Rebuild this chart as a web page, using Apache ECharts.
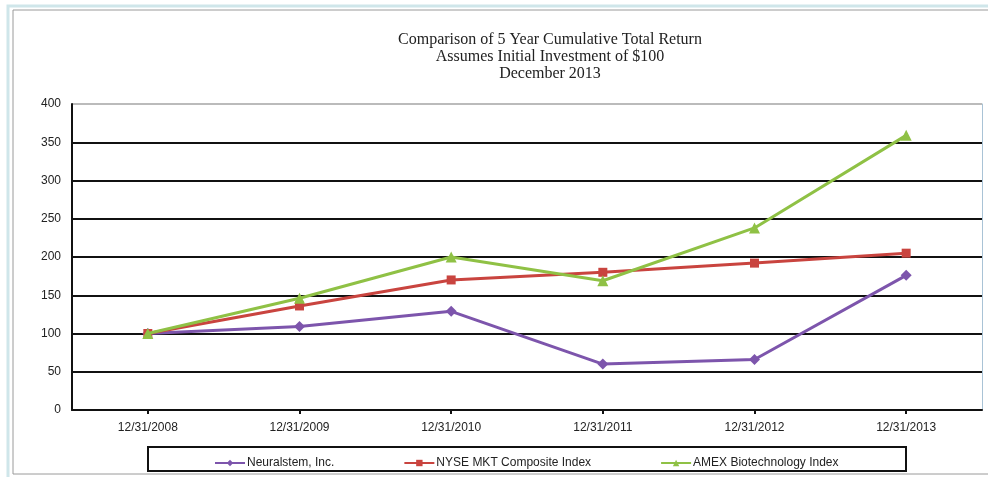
<!DOCTYPE html>
<html>
<head>
<meta charset="utf-8">
<title>Comparison of 5 Year Cumulative Total Return</title>
<script src="https://cdn.jsdelivr.net/npm/echarts@6/dist/echarts.min.js"></script>
<style>
    html, body { margin: 0; padding: 0; background: #fff; }
    #chart { width: 988px; height: 477px; }
</style>
</head>
<body>
<div id="chart"></div>
<script>
// x axis dates
var categories = ['12/31/2008', '12/31/2009', '12/31/2010', '12/31/2011', '12/31/2012', '12/31/2013'];
// y ticks 0..400 step 50
var yTicks = [0, 50, 100, 150, 200, 250, 300, 350, 400];

var seriesNames = ['Neuralstem, Inc.', 'NYSE MKT Composite Index', 'AMEX Biotechnology Index'];
var neuralstem = [100, 109, 129, 60, 66, 176];
var nyseMkt = [100, 136, 170, 180, 192, 205];
var amexBio = [100, 146, 200, 169, 238, 359];

var colorList = ['#7d55ac', '#c9443f', '#8fc145'];
var symbols = ['diamond', 'rect', 'triangle'];

var myChart = echarts.init(document.getElementById('chart'));

function makeSeries(idx, data) {
    return {
        name: seriesNames[idx],
        type: 'line',
        data: data,
        symbol: symbols[idx],
        symbolSize: idx == 1 ? 9 : 11,
        showSymbol: true,
        lineStyle: { width: 3, color: colorList[idx] },
        itemStyle: { color: colorList[idx] },
        z: 3 + idx
    }
}

var option = {
    animation: false,
    textStyle: { fontFamily: 'Liberation Sans, Arial, sans-serif' },
    title: {
        text: 'Comparison of 5 Year Cumulative Total Return\nAssumes Initial Investment of $100\nDecember 2013',
        left: 545,
        textAlign: 'center',
        top: 26,
        textStyle: {
            fontFamily: 'Liberation Serif, Times New Roman, serif',
            fontSize: 16,
            fontWeight: 'normal',
            color: '#222',
            lineHeight: 17
        }
    },
    grid: {
        left: 72,
        right: 6,
        top: 104,
        bottom: 67
    },
    legend: {
        data: seriesNames,
        left: 209,
        top: 452,
        itemGap: 69,
        itemWidth: 30,
        itemHeight: 8,
        textStyle: { fontSize: 12, color: '#222', padding: [0, 0, 0, -3] }
    },
    xAxis: {
        type: 'category',
        data: categories,
        boundaryGap: true,
        axisLine: { lineStyle: { color: '#111', width: 2 } },
        axisTick: { show: true, alignWithLabel: true, length: 4, lineStyle: { color: '#111', width: 2 } },
        axisLabel: { fontSize: 12, color: '#222', margin: 12 }
    },
    yAxis: [{
        type: 'value',
        min: yTicks[0],
        max: yTicks[yTicks.length - 1],
        interval: 50,
        axisLine: { show: true, lineStyle: { color: '#111', width: 2 } },
        axisTick: { show: false },
        axisLabel: { fontSize: 12, color: '#222', margin: 11 },
        splitLine: {
            lineStyle: {
                color: ['#111', '#111', '#111', '#111', '#111', '#111', '#111', '#111', '#bbb'],
                width: 2
            }
        }
    }, {
        type: 'value',
        position: 'right',
        min: yTicks[0],
        max: yTicks[yTicks.length - 1],
        interval: 50,
        axisLine: { show: true, lineStyle: { color: '#a9c3d6', width: 1 } },
        axisTick: { show: false },
        axisLabel: { show: false },
        splitLine: { show: false }
    }],
    graphic: [{
        type: 'rect',
        shape: { x: 8, y: 6, width: 990, height: 480 },
        style: { fill: 'none', stroke: '#cfe6ea', lineWidth: 3 },
        silent: true
    }, {
        type: 'rect',
        shape: { x: 13, y: 10, width: 990, height: 464 },
        style: { fill: 'none', stroke: '#9a9a9a', lineWidth: 1 },
        silent: true
    }, {
        type: 'rect',
        shape: { x: 148, y: 447, width: 758, height: 24 },
        style: { fill: 'none', stroke: '#111', lineWidth: 2 },
        silent: true
    }],
    series: [
        makeSeries(0, neuralstem),
        makeSeries(1, nyseMkt),
        makeSeries(2, amexBio)
    ]
};

myChart.setOption(option);
</script>
</body>
</html>
